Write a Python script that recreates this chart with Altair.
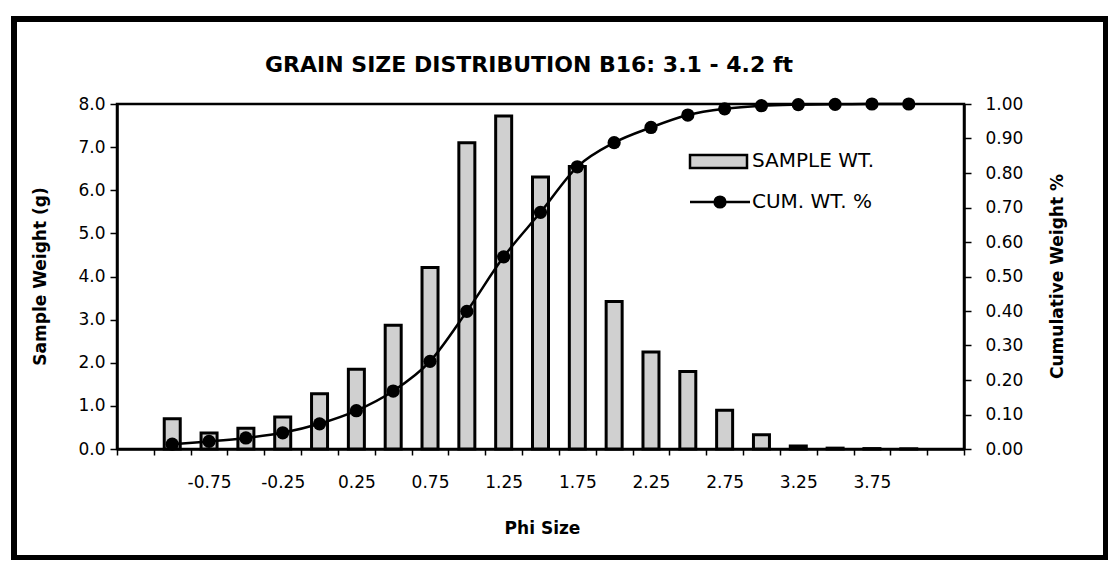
import json
import altair as alt
import pandas as pd

# ---- data ----
phi = ["-1.00", "-0.75", "-0.50", "-0.25", "0.00", "0.25", "0.50", "0.75",
       "1.00", "1.25", "1.50", "1.75", "2.00", "2.25", "2.50", "2.75",
       "3.00", "3.25", "3.50", "3.75", "4.00"]
sample_wt = [0.70, 0.37, 0.48, 0.74, 1.28, 1.85, 2.87, 4.21,
             7.10, 7.72, 6.31, 6.55, 3.42, 2.25, 1.80, 0.90,
             0.33, 0.07, 0.02, 0.01, 0.005]
cum_wt = [0.014, 0.022, 0.032, 0.047, 0.073, 0.111, 0.168, 0.254,
          0.399, 0.557, 0.686, 0.818, 0.888, 0.932, 0.968, 0.986,
          0.995, 0.998, 0.999, 1.000, 1.000]
tick_labels = ["-0.75", "-0.25", "0.25", "0.75", "1.25", "1.75",
               "2.25", "2.75", "3.25", "3.75"]
left_ticks = [0, 1, 2, 3, 4, 5, 6, 7, 8]
right_ticks = [0.0, 0.1, 0.2, 0.3, 0.4, 0.5, 0.6, 0.7, 0.8, 0.9, 1.0]
domain = ["lo"] + phi + ["hi"]

df = pd.DataFrame({"phi": phi, "wt": sample_wt, "cum": cum_wt})
one = pd.DataFrame({"a": [0]})

W, H = 847, 345
FONT = "DejaVu Sans"
BAR_FILL = "#d0d0d0"

label_expr = f"indexof({json.dumps(tick_labels)}, datum.value) >= 0 ? datum.value : ''"

x_enc = alt.X(
    "phi:N",
    scale=alt.Scale(domain=domain, paddingInner=0, paddingOuter=0),
    axis=alt.Axis(
        title="Phi Size", labelExpr=label_expr, tickBand="extent", labelAngle=0,
        labelPadding=19, tickSize=6, titleX=425, titleY=79,
        titleAlign="center", titleBaseline="middle",
    ),
)

bars = alt.Chart(df).mark_bar(
    width=16, fill=BAR_FILL, stroke="black", strokeWidth=3
).encode(
    x=x_enc,
    y=alt.Y(
        "wt:Q",
        scale=alt.Scale(domain=[0, 8], nice=False),
        axis=alt.Axis(
            title="Sample Weight (g)", values=left_ticks, format=".1f",
            orient="left", tickSize=7, labelPadding=5,
            titleAngle=270, titleX=-77, titleY=172,
            titleAlign="center", titleBaseline="middle",
        ),
    ),
)

right_axis = alt.Axis(
    title="Cumulative Weight %", values=right_ticks, format=".2f",
    orient="right", tickSize=7, labelPadding=14,
    titleAngle=270, titleX=93, titleY=172,
    titleAlign="center", titleBaseline="middle",
)
y_cum = alt.Y("cum:Q", scale=alt.Scale(domain=[0, 1], nice=False), axis=right_axis)

line = alt.Chart(df).mark_line(
    interpolate="monotone", color="black", strokeWidth=2.5
).encode(x=alt.X("phi:N"), y=y_cum)

points = alt.Chart(df).mark_circle(
    size=175, color="black", opacity=1
).encode(x=alt.X("phi:N"), y=y_cum)

cum_layer = alt.layer(line, points)

# ---- decorations: outer frame, title, legend ----
frame = alt.Chart(one).mark_rect(
    fillOpacity=0, stroke="black", strokeWidth=6
).encode(
    x=alt.value(-103), x2=alt.value(989), y=alt.value(-85), y2=alt.value(454)
)

title = alt.Chart(one).mark_text(
    text="GRAIN SIZE DISTRIBUTION B16: 3.1 - 4.2 ft",
    font=FONT, fontSize=22, fontWeight="bold", align="center",
    baseline="middle", color="black",
).encode(x=alt.value(412), y=alt.value(-39))

leg_rect = alt.Chart(one).mark_rect(
    fill=BAR_FILL, stroke="black", strokeWidth=2.5
).encode(x=alt.value(573), x2=alt.value(630), y=alt.value(51), y2=alt.value(64))

leg_text1 = alt.Chart(one).mark_text(
    text="SAMPLE WT.", font=FONT, fontSize=20, align="left",
    baseline="middle", color="black",
).encode(x=alt.value(635), y=alt.value(57))

leg_line = alt.Chart(one).mark_rule(color="black", strokeWidth=2.5).encode(
    x=alt.value(573), x2=alt.value(633), y=alt.value(98)
)
leg_dot = alt.Chart(one).mark_circle(size=175, color="black", opacity=1).encode(
    x=alt.value(603), y=alt.value(98)
)
leg_text2 = alt.Chart(one).mark_text(
    text="CUM. WT. %", font=FONT, fontSize=20, align="left",
    baseline="middle", color="black",
).encode(x=alt.value(635), y=alt.value(98))

main = alt.layer(bars, cum_layer).resolve_scale(y="independent")

chart = alt.layer(
    main, frame, title, leg_rect, leg_text1, leg_line, leg_dot, leg_text2
).properties(
    width=W, height=H,
    autosize=alt.AutoSizeParams(type="none"),
    padding={"left": 109, "top": 96, "right": 144, "bottom": 111},
    background="white",
).configure_view(
    stroke="black", strokeWidth=2.5
).configure_axis(
    grid=False, domainColor="black", domainWidth=2.5, tickColor="black",
    tickWidth=1.5, labelColor="black", titleColor="black",
    labelFont=FONT, labelFontSize=17, titleFont=FONT, titleFontSize=17,
    titleFontWeight="bold",
)

chart.save("out.html", embed_options={"renderer": "svg", "actions": False})
